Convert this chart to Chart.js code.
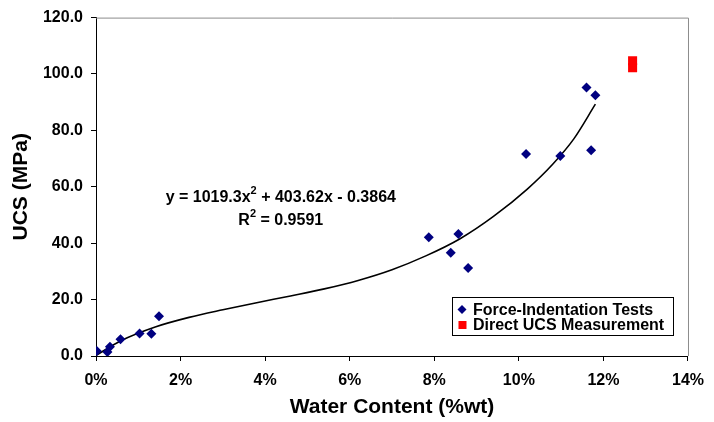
<!DOCTYPE html>
<html>
<head>
<meta charset="utf-8">
<script src="https://cdn.jsdelivr.net/npm/chart.js@4.4.1/dist/chart.umd.min.js"></script>
<style>
  html, body { margin: 0; padding: 0; background: #fff; }
  #wrap { width: 714px; height: 422px; position: relative; }
</style>
</head>
<body>
<div id="wrap"><canvas id="chart"></canvas></div>
<script>
// water content (%wt) and UCS (MPa)
const indentX = [0.02, 0.27, 0.33, 0.58, 1.03, 1.31, 1.49, 7.87, 8.39, 8.57, 8.80, 10.17, 10.98, 11.60, 11.71, 11.81];
const indentY = [1.8, 1.4, 3.3, 5.9, 8.0, 7.9, 14.1, 42.1, 36.6, 43.3, 31.2, 71.6, 70.9, 95.2, 73.0, 92.5];
const directX = [12.69, 12.69];
const directY = [104.7, 102.2];
// trend curve as drawn in the picture
const trendX = [0, 0.6, 1.4, 2.2, 3.0, 3.8, 4.6, 5.4, 6.2, 7.0, 7.8, 8.6, 9.4, 10.2, 10.8, 11.3, 11.81];
const trendY = [0.2, 5.5, 10.3, 13.7, 16.4, 18.9, 21.3, 23.8, 26.8, 30.6, 35.5, 41.5, 49.5, 59.2, 68.0, 77.0, 89.3];
const seriesNames = ['Force-Indentation Tests', 'Direct UCS Measurement'];
const eqLine1 = ['y = 1019.3x', '2', ' + 403.62x - 0.3864'];
const eqLine2 = ['R', '2', ' = 0.9591'];

const FONT = "'Liberation Sans', Arial, sans-serif";
Chart.defaults.font.family = FONT;
Chart.defaults.font.weight = 'bold';
Chart.defaults.color = '#000';

const toPts = (xs, ys) => xs.map((x, i) => ({ x, y: ys[i] }));

// grey frame on top and right of the plot area
const framePlugin = {
  id: 'frame',
  beforeDatasetsDraw(chart) {
    const { ctx, chartArea: a } = chart;
    ctx.save();
    ctx.strokeStyle = '#8c8c8c';
    ctx.lineWidth = 1;
    ctx.beginPath();
    ctx.moveTo(a.left, a.top + 0.5);
    ctx.lineTo(a.right + 0.5, a.top + 0.5);
    ctx.lineTo(a.right + 0.5, a.bottom);
    ctx.stroke();
    ctx.restore();
  }
};

function drawSup(ctx, parts, cx, cy) {
  const big = 'bold 16px ' + FONT, small = 'bold 11px ' + FONT;
  ctx.font = big; const w0 = ctx.measureText(parts[0]).width;
  const w2 = ctx.measureText(parts[2]).width;
  ctx.font = small; const w1 = ctx.measureText(parts[1]).width;
  let x = cx - (w0 + w1 + w2) / 2;
  ctx.textBaseline = 'middle';
  ctx.textAlign = 'left';
  ctx.font = big; ctx.fillText(parts[0], x, cy); x += w0;
  ctx.font = small; ctx.fillText(parts[1], x, cy - 7); x += w1;
  ctx.font = big; ctx.fillText(parts[2], x, cy);
}

const equationPlugin = {
  id: 'equation',
  afterDatasetsDraw(chart) {
    const { ctx, scales } = chart;
    const cx = scales.x.getPixelForValue(4.37);
    const cy = scales.y.getPixelForValue(56.0);
    ctx.save();
    ctx.fillStyle = '#000';
    drawSup(ctx, eqLine1, cx, cy);
    drawSup(ctx, eqLine2, cx, cy + 23);
    ctx.restore();
  }
};

const legendPlugin = {
  id: 'boxLegend',
  afterDraw(chart) {
    const { ctx, chartArea: a } = chart;
    const right = a.right - 15, bottom = a.bottom - 21;
    const w = 221, h = 38;
    const left = right - w, top = bottom - h;
    ctx.save();
    ctx.fillStyle = '#fff';
    ctx.fillRect(left, top, w, h);
    ctx.strokeStyle = '#000';
    ctx.lineWidth = 1;
    ctx.strokeRect(Math.round(left) + 0.5, Math.round(top) + 0.5, w, h);
    ctx.font = 'bold 16px ' + FONT;
    ctx.textBaseline = 'middle';
    ctx.textAlign = 'left';
    seriesNames.forEach((name, i) => {
      const ds = chart.data.datasets[i];
      const y = top + 12.5 + i * 15.5;
      ctx.fillStyle = ds.backgroundColor;
      if (i === 0) {
        ctx.beginPath();
        ctx.moveTo(left + 10, y - 4.5);
        ctx.lineTo(left + 14.5, y);
        ctx.lineTo(left + 10, y + 4.5);
        ctx.lineTo(left + 5.5, y);
        ctx.closePath();
        ctx.fill();
      } else {
        ctx.fillRect(left + 6.5, y - 4, 8, 8);
      }
      ctx.fillStyle = '#000';
      ctx.fillText(name, left + 21, y + 1);
    });
    ctx.restore();
  }
};

new Chart(document.getElementById('chart'), {
  type: 'scatter',
  data: {
    datasets: [
      {
        label: seriesNames[0],
        data: toPts(indentX, indentY),
        backgroundColor: '#000080',
        borderColor: '#000080',
        pointStyle: 'rectRot',
        pointRadius: 5,
        borderWidth: 0
      },
      {
        label: seriesNames[1],
        data: toPts(directX, directY),
        backgroundColor: '#ff0000',
        borderColor: '#ff0000',
        pointStyle: 'rect',
        pointRadius: 6.4,
        borderWidth: 0
      },
      {
        label: 'Trend',
        type: 'line',
        data: toPts(trendX, trendY),
        borderColor: '#000',
        borderWidth: 1.6,
        pointRadius: 0,
        fill: false,
        cubicInterpolationMode: 'monotone'
      }
    ]
  },
  options: {
    responsive: true,
    maintainAspectRatio: false,
    animation: false,
    layout: { padding: { left: 0, right: 18, top: 14, bottom: 0 } },
    plugins: {
      legend: { display: false },
      tooltip: { enabled: false }
    },
    scales: {
      x: {
        type: 'linear',
        min: 0, max: 14,
        ticks: {
          stepSize: 2,
          padding: 10,
          font: { size: 16, weight: 'bold' },
          callback: v => v + '%'
        },
        grid: { drawOnChartArea: false, tickLength: 5, color: '#000' },
        border: { color: '#000', width: 1 },
        title: {
          display: true,
          text: 'Water Content (%wt)',
          font: { size: 21, weight: 'bold' },
          padding: { top: 0, bottom: 2 }
        },
        afterFit: s => { s.height = 66; }
      },
      y: {
        min: 0, max: 120,
        ticks: {
          stepSize: 20,
          padding: 8,
          font: { size: 16, weight: 'bold' },
          callback: v => v.toFixed(1)
        },
        grid: { drawOnChartArea: false, tickLength: 5, color: '#000' },
        border: { color: '#000', width: 1 },
        title: {
          display: true,
          text: 'UCS (MPa)',
          font: { size: 21, weight: 'bold' },
          padding: { top: 9, bottom: 0 }
        },
        afterFit: s => { s.width = 96; }
      }
    }
  },
  plugins: [framePlugin, equationPlugin, legendPlugin]
});
</script>
</body>
</html>
